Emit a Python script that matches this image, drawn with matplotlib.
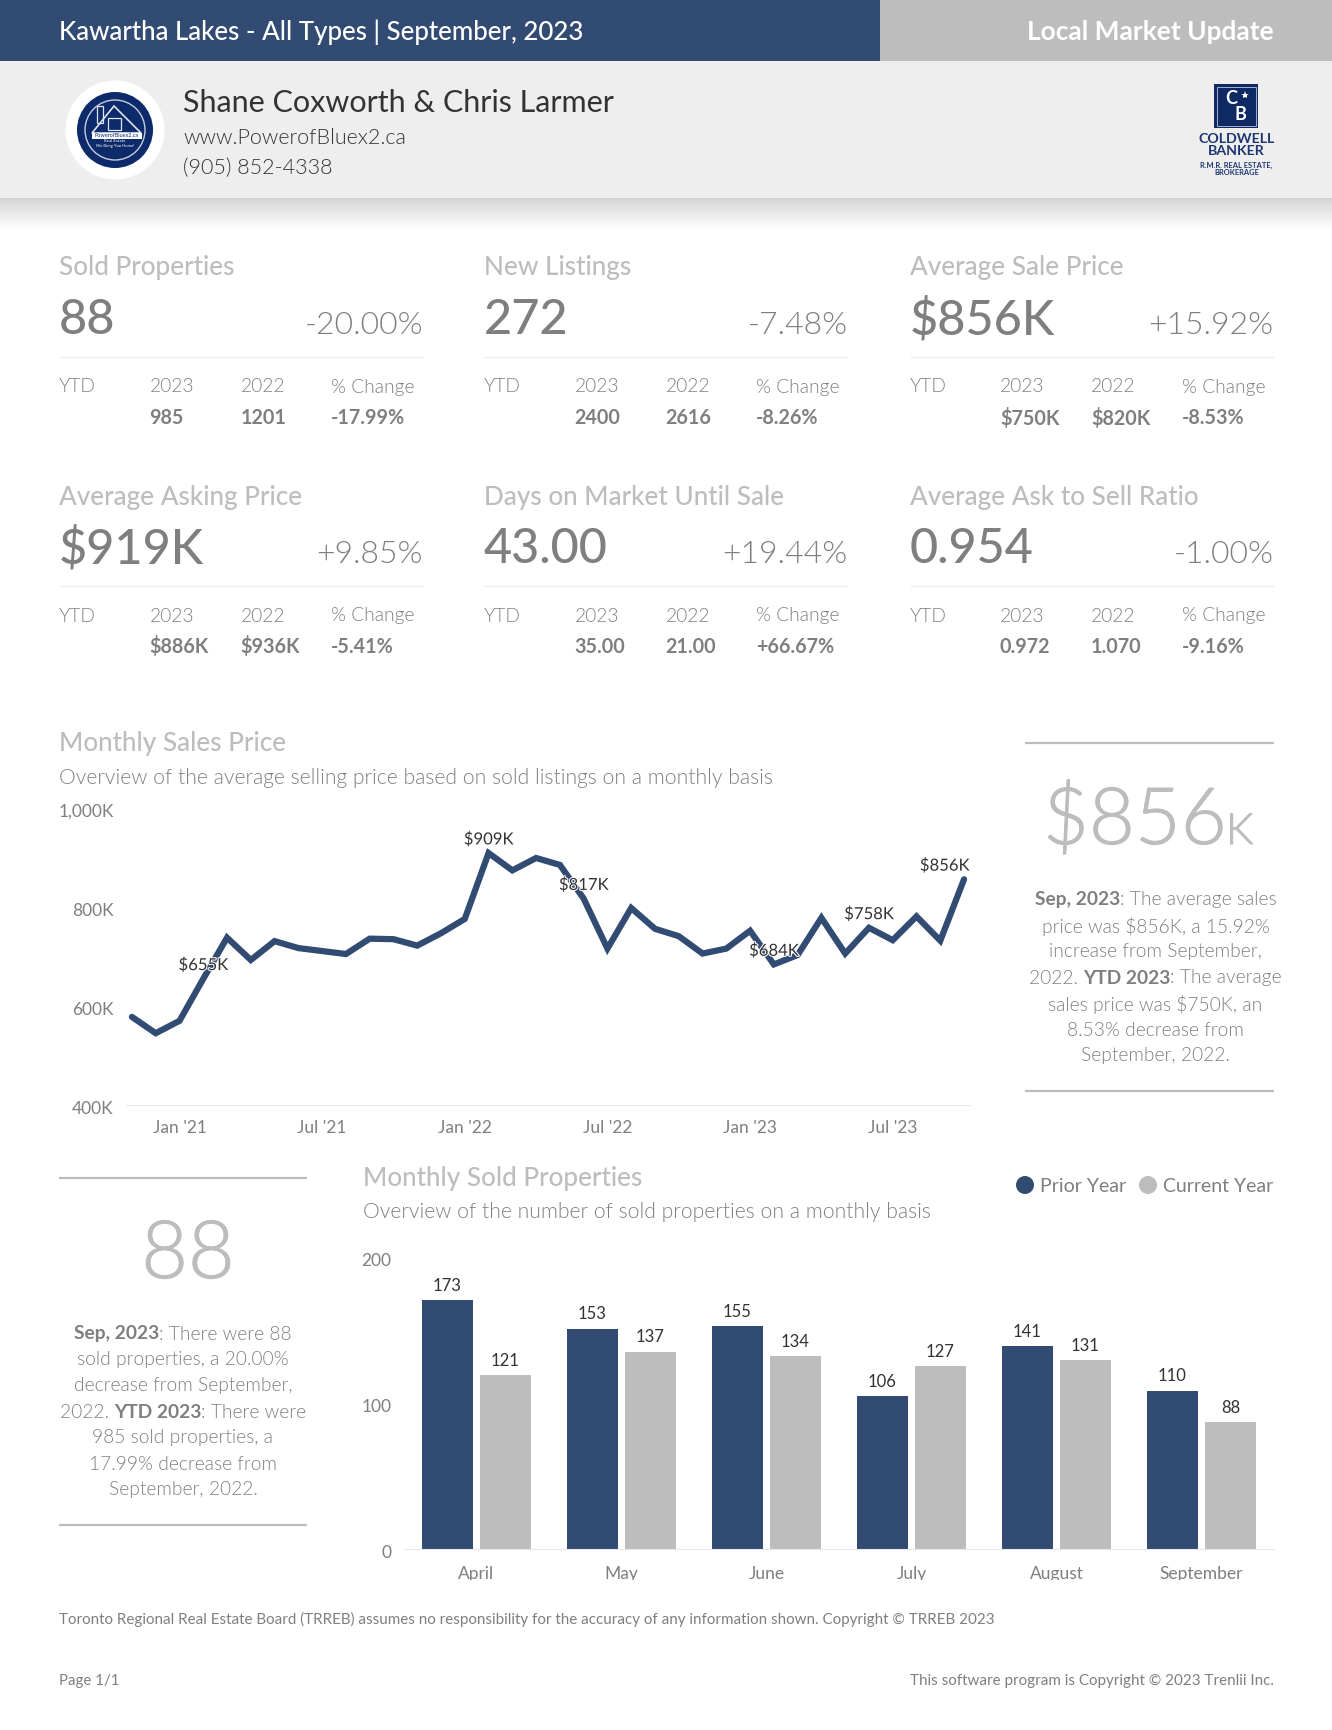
import numpy as np
import matplotlib
matplotlib.use("Agg")
import matplotlib.pyplot as plt
import matplotlib.patheffects as pe
from matplotlib.patches import Circle, Rectangle, Polygon
from matplotlib.transforms import Bbox, Affine2D

W, H = 1332, 1730
NAVY = "#324b73"
GREY = "#bdbdbd"
TXT = "#7f7f7f"
LIGHT = 300

plt.rcParams["font.family"] = ["Lato", "DejaVu Sans"]

# kpi tiles
kpi_titles = ["Sold Properties", "New Listings", "Average Sale Price",
              "Average Asking Price", "Days on Market Until Sale", "Average Ask to Sell Ratio"]
kpi_values = ["88", "272", "$856K", "$919K", "43.00", "0.954"]
kpi_changes = ["-20.00%", "-7.48%", "+15.92%", "+9.85%", "+19.44%", "-1.00%"]
ytd_2023 = ["985", "2400", "$750K", "$886K", "35.00", "0.972"]
ytd_2022 = ["1201", "2616", "$820K", "$936K", "21.00", "1.070"]
ytd_change = ["-17.99%", "-8.26%", "-8.53%", "-5.41%", "+66.67%", "-9.16%"]

# monthly sales price, in thousands
price_values = [578, 545, 570, 655, 738, 693, 731, 717, 711, 705, 736, 735,
                722, 747, 776, 909, 874, 899, 885, 817, 716, 798, 756, 741,
                706, 716, 752, 684, 703, 778, 706, 758, 733, 781, 732, 856]
price_labelled = [3, 15, 19, 27, 31, 35]
price_tick_idx = [2, 8, 14, 20, 26, 32]
price_tick_labels = ["Jan '21", "Jul '21", "Jan '22", "Jul '22", "Jan '23", "Jul '23"]
price_yticks = [400, 600, 800, 1000]
price_ylabels = ["400K", "600K", "800K", "1,000K"]

# monthly sold properties
months = ["April", "May", "June", "July", "August", "September"]
prior_year = [173, 153, 155, 106, 141, 110]
current_year = [121, 137, 134, 127, 131, 88]

price_note = [[("Sep, 2023", True), (": The average sales", False)],
              [("price was $856K, a 15.92%", False)],
              [("increase from September,", False)],
              [("2022. ", False), ("YTD 2023", True), (": The average", False)],
              [("sales price was $750K, an", False)],
              [("8.53% decrease from", False)],
              [("September, 2022.", False)]]
sold_note = [[("Sep, 2023", True), (": There were 88", False)],
             [("sold properties, a 20.00%", False)],
             [("decrease from September,", False)],
             [("2022. ", False), ("YTD 2023", True), (": There were", False)],
             [("985 sold properties, a", False)],
             [("17.99% decrease from", False)],
             [("September, 2022.", False)]]


def axes_px(fig, left, top, right, bottom):
    return fig.add_axes([left / W, 1 - bottom / H, (right - left) / W, (bottom - top) / H])


def nudge(label, dx=0, dy=0):
    # move a tick label by some pixels, dy down
    label.set_transform(label.get_transform() + Affine2D().translate(dx, -dy))


def rich_line(ax, cx, y, parts, size, color):
    # centred line with bold bits, measure first then place
    r = ax.figure.canvas.get_renderer()
    items = []
    for s, bold in parts:
        wt = "bold" if bold else LIGHT
        t = ax.text(0, y, s, fontsize=size, color=color, va="center", ha="left", fontweight=wt)
        # x on both ends so that trailing spaces get counted
        p1 = ax.text(0, y, "x" + s + "x", fontsize=size, fontweight=wt)
        p2 = ax.text(0, y, "xx", fontsize=size, fontweight=wt)
        w = p1.get_window_extent(r).width - p2.get_window_extent(r).width
        p1.remove()
        p2.remove()
        items.append((t, w))
    x = cx - sum(w for _, w in items) / 2
    for t, w in items:
        t.set_x(x)
        x += w


def rule(ax, x0, x1, y, color, lw):
    ax.plot([x0, x1], [y, y], color=color, lw=lw, solid_capstyle="butt")


def big_number(ax, x, y, s, size, ha="left"):
    # light weight came out too thin at this size, fatten it a bit
    t = ax.text(x, y, s, color=GREY, fontsize=size, fontweight=LIGHT, va="baseline", ha=ha)
    t.set_path_effects([pe.withStroke(linewidth=0.7, foreground=GREY)])


fig = plt.figure(figsize=(W / 100, H / 100), dpi=100, facecolor="white")
page = fig.add_axes([0, 0, 1, 1])
page.set_xlim(0, W)
page.set_ylim(H, 0)
page.axis("off")

# header
page.add_patch(Rectangle((0, 0), 880, 61, color=NAVY, lw=0))
page.add_patch(Rectangle((880, 0), W - 880, 61, color=GREY, lw=0))
page.add_patch(Rectangle((0, 61), W, 137, color="#eeeeee", lw=0))
shadow = np.linspace(0.83, 1, 32).reshape(-1, 1)
page.imshow(shadow, extent=[0, W, 230, 198], cmap="gray", vmin=0, vmax=1, aspect="auto", zorder=1)
page.set_xlim(0, W)
page.set_ylim(H, 0)

page.text(58.8, 32.5, "Kawartha Lakes - All Types | September, 2023", color="white",
          fontsize=18.6, fontweight="medium", va="center")
page.text(1273.5, 32.5, "Local Market Update", color="white", fontsize=18.9,
          fontweight="bold", va="center", ha="right")
page.text(183, 103, "Shane Coxworth & Chris Larmer", color="#333333", fontsize=22, va="center")
page.text(183, 138, "www.PowerofBluex2.ca", color="#333333", fontsize=15.5, fontweight=LIGHT, va="center")
page.text(183, 168, "(905) 852-4338", color="#333333", fontsize=15.5, fontweight=LIGHT, va="center")

# agent badge
page.add_patch(Circle((115, 130), 49.5, color="white", lw=0, zorder=2))
page.add_patch(Circle((115, 130), 38, color="#0d2a6b", lw=0, zorder=3))
page.add_patch(Circle((115, 130), 30, fill=False, ec="#c5cde0", lw=1, zorder=4))
page.add_patch(Polygon([[92, 133], [114, 106], [141, 133]], fill=False, ec="#dfe4ef", lw=1.2, zorder=4))
page.add_patch(Rectangle((97, 106), 6, 17, fill=False, ec="#dfe4ef", lw=0.9, zorder=4))
page.add_patch(Rectangle((108, 118), 13, 12, fill=False, ec="#dfe4ef", lw=0.9, zorder=4))
page.add_patch(Rectangle((92, 133), 50, 5.5, color="white", lw=0, zorder=4))
page.text(117, 135.7, "PowerofBluex2.ca", fontsize=4, color="#0d2a6b", ha="center", va="center", zorder=5)
page.text(115, 141.5, "Real Estate", fontsize=3.2, color="white", ha="center", va="center", zorder=5)
page.text(115, 146.5, "We Bring You Home!", fontsize=3, color="white", ha="center", va="center", zorder=5)

# brokerage logo
page.add_patch(Rectangle((1214, 84), 44, 44, color="#0f2a63", lw=0, zorder=2))
page.add_patch(Rectangle((1216.5, 86.5), 39, 39, fill=False, ec="#9fb0d0", lw=0.7, zorder=3))
page.text(1231, 98, "C", color="white", fontsize=13, fontweight="bold", ha="center", va="center", zorder=4)
page.text(1240, 115, "B", color="white", fontsize=13, fontweight="bold", ha="center", va="center", zorder=4)
page.plot([1245], [95], marker="*", ms=6, color="white", mew=0, zorder=4)
page.text(1236.5, 139, "COLDWELL", color="#1d3670", fontsize=10.2, fontweight="bold", ha="center", va="center")
page.text(1236.5, 151, "BANKER", color="#1d3670", fontsize=10.2, fontweight="bold", ha="center", va="center")
page.add_patch(Rectangle((1220, 158.5), 33, 0.8, color="#7f8cab", lw=0))
page.text(1236.5, 165.5, "R.M.R. REAL ESTATE,", color="#1d3670", fontsize=5.4, fontweight="bold", ha="center", va="center")
page.text(1236.5, 172.5, "BROKERAGE", color="#1d3670", fontsize=5.4, fontweight="bold", ha="center", va="center")

# kpi tiles
col_left = [59, 484, 909.5]
col_off = [0, 90.5, 181.5, 272]
for i in range(6):
    x = col_left[i % 3]
    dy = 229 * (i // 3)
    right = x + 364
    page.text(x, 268 + dy, kpi_titles[i], color=GREY, fontsize=18.8, fontweight="medium", va="center")
    page.text(x, 320 + dy, kpi_values[i], color=TXT, fontsize=35, fontweight="medium", va="center")
    page.text(right, 325.5 + dy, kpi_changes[i], color=TXT, fontsize=23, fontweight=LIGHT, va="center", ha="right")
    rule(page, x, right, 356.5 + dy, "#eeeeee", 1)
    for off, lab in zip(col_off, ["YTD", "2023", "2022", "% Change"]):
        page.text(x + off, 387 + dy, lab, color=TXT, fontsize=13.8, fontweight=LIGHT, va="center")
    for off, val in zip(col_off[1:], [ytd_2023[i], ytd_2022[i], ytd_change[i]]):
        page.text(x + off, 418 + dy, val, color=TXT, fontsize=14.2, fontweight="bold", va="center")

# price section text
page.text(59, 744, "Monthly Sales Price", color=GREY, fontsize=18.8, fontweight="medium", va="center")
page.text(59, 778, "Overview of the average selling price based on sold listings on a monthly basis",
          color=TXT, fontsize=15.25, fontweight=LIGHT, va="center")

ax1 = axes_px(fig, 126, 808, 970, 1105)
ax1.patch.set_alpha(0)
xs = np.arange(len(price_values))
ax1.plot(xs, price_values, color=NAVY, lw=4.5, solid_joinstyle="miter", solid_capstyle="round", clip_on=False)
for i in price_labelled:
    # last label is pushed back inside the plot
    shift = -14 if i == len(price_values) - 1 else 0
    t = ax1.annotate("$%dK" % price_values[i], (i, price_values[i]), xytext=(shift, 10), textcoords="offset points",
                     ha="center", va="center", fontsize=12, color="#333333", zorder=5)
    t.set_path_effects([pe.withStroke(linewidth=1.5, foreground="white")])
ax1.set_xlim(-0.25, 35.25)
ax1.set_ylim(400, 1000)
ax1.set_xticks(price_tick_idx)
ax1.set_xticklabels(price_tick_labels, fontsize=12.5, color=TXT)
ax1.set_yticks(price_yticks)
ax1.set_yticklabels(price_ylabels, fontsize=12.5, color=TXT)
ax1.tick_params(length=0, pad=9)
ax1.tick_params(axis="x", pad=11)
for lab in ax1.get_yticklabels():
    nudge(lab, dy=2)
for s in ["top", "left", "right"]:
    ax1.spines[s].set_visible(False)
ax1.spines["bottom"].set_color("#e8e8e8")

# right note
rule(page, 1025, 1273.5, 743, GREY, 1.6)
rule(page, 1025, 1273.5, 1091, GREY, 1.6)
big_number(page, 1043, 844, "$856", 57)
big_number(page, 1226, 844, "K", 31)
for k, parts in enumerate(price_note):
    rich_line(page, 1155.5, 900 + k * 26, parts, 13.8, TXT)

# left note
rule(page, 59, 307, 1178, GREY, 1.6)
rule(page, 59, 307, 1525, GREY, 1.6)
big_number(page, 188, 1278, "88", 58, ha="center")
for k, parts in enumerate(sold_note):
    rich_line(page, 183, 1334 + k * 26, parts, 13.8, TXT)

# sold section text
page.text(363, 1178.5, "Monthly Sold Properties", color=GREY, fontsize=18.8, fontweight="medium", va="center")
page.text(363, 1212, "Overview of the number of sold properties on a monthly basis",
          color=TXT, fontsize=15.25, fontweight=LIGHT, va="center")
page.add_patch(Circle((1025, 1185), 9, color=NAVY, lw=0))
page.text(1040, 1186, "Prior Year", color=TXT, fontsize=14, va="center")
page.add_patch(Circle((1148, 1185), 9, color=GREY, lw=0))
page.text(1163, 1186, "Current Year", color=TXT, fontsize=14, va="center")

ax2 = axes_px(fig, 404, 1261, 1274, 1549)
ax2.patch.set_alpha(0)
pos = np.arange(len(months))
b1 = ax2.bar(pos - 0.2, prior_year, 0.355, color=NAVY)
b2 = ax2.bar(pos + 0.2, current_year, 0.355, color=GREY)
ax2.bar_label(b1, padding=4.5, fontsize=12, color="#333333")
ax2.bar_label(b2, padding=4.5, fontsize=12, color="#333333")
ax2.set_xlim(-0.5, 5.5)
ax2.set_ylim(0, 200)
ax2.set_xticks(pos)
ax2.set_xticklabels(months, fontsize=12.5, color=TXT)
ax2.set_yticks([0, 100, 200])
ax2.tick_params(length=0)
ax2.tick_params(axis="x", pad=12.5)
ax2.tick_params(axis="y", pad=9)
for lab, d in zip(ax2.get_yticklabels(), [2, 0, -2]):
    lab.set_fontsize(12.5)
    lab.set_color(TXT)
    nudge(lab, dy=d)
for s in ["top", "left", "right"]:
    ax2.spines[s].set_visible(False)
ax2.spines["bottom"].set_color("#e8e8e8")
# month labels get cut off at the bottom in the original
for lab in ax2.get_xticklabels():
    lab.set_clip_box(Bbox([[0, H - 1580], [W, H]]))
    lab.set_clip_on(True)

# footer
page.text(59, 1619, "Toronto Regional Real Estate Board (TRREB) assumes no responsibility for the accuracy of any information shown. Copyright © TRREB 2023",
          color=TXT, fontsize=10.88, va="center")
page.text(59, 1681, "Page 1/1", color=TXT, fontsize=10.8, va="center")
page.text(1273.5, 1681, "This software program is Copyright © 2023 Trenlii Inc.", color=TXT, fontsize=10.88, va="center", ha="right")

fig.savefig("out.png", dpi=100)
